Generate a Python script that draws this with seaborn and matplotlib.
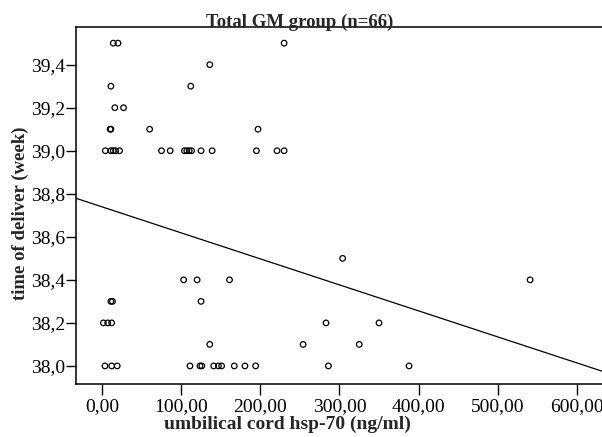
import numpy as np
import pandas as pd
import matplotlib
matplotlib.use('Agg')
import matplotlib.pyplot as plt
from matplotlib.ticker import FuncFormatter
import seaborn as sns

#Values
hsp70 = [14, 20, 230,
         136,
         11, 112,
         16, 27,
         10, 11, 60, 197,
         4, 11, 14, 17, 22, 75, 86, 104, 107, 110, 113, 125, 139, 195, 221, 230,
         304,
         103, 120, 161, 541,
         11, 13, 125,
         1.5, 7, 12, 283, 350,
         136, 254, 325,
         3.5, 12, 19, 111, 123.6, 126, 141, 147, 151, 167, 180.5, 194, 286, 388]
delivery_week = [39.5] * 3 + [39.4] * 1 + [39.3] * 2 + [39.2] * 2 + [39.1] * 4 \
    + [39.0] * 16 + [38.5] * 1 + [38.4] * 4 + [38.3] * 3 + [38.2] * 5 \
    + [38.1] * 3 + [38.0] * 14

#Fit line as drawn in the reference
fit_intercept = 38.739
fit_slope = -0.001208

x_ticks = [0, 100, 200, 300, 400, 500, 600]
y_ticks = [38.0, 38.2, 38.4, 38.6, 38.8, 39.0, 39.2, 39.4]

df = pd.DataFrame({'hsp70': hsp70, 'week': delivery_week})

sns.set_style('ticks')
plt.rcParams['font.family'] = ['Liberation Serif', 'DejaVu Serif']

fig = plt.figure(figsize=(6.02, 4.37), dpi=100)
W, H = 602, 437
ax = fig.add_axes([76 / W, (H - 384) / H, (W - 76) / W, (384 - 27) / H])

sns.scatterplot(data=df, x='hsp70', y='week', ax=ax,
                marker='o', s=16, facecolor='none', edgecolor='black',
                linewidth=0.9, zorder=3)

ax.axline((0, fit_intercept), slope=fit_slope, color='black', lw=0.9, zorder=2)

ax.set_xlim(-33.1, 631.9)
ax.set_ylim(37.916, 39.575)
ax.set_xticks(x_ticks)
ax.set_yticks(y_ticks)
ax.xaxis.set_major_formatter(FuncFormatter(lambda v, p: f'{v:.2f}'.replace('.', ',')))
ax.yaxis.set_major_formatter(FuncFormatter(lambda v, p: f'{v:.1f}'.replace('.', ',')))
ax.tick_params(axis='x', direction='out', length=8, width=1, pad=2,
               labelsize=14, colors='black')
ax.tick_params(axis='y', direction='out', length=7.4, width=1, pad=0.5,
               labelsize=14, colors='black')

for side in ['left', 'bottom', 'top']:
    ax.spines[side].set_visible(True)
    ax.spines[side].set_color('black')
    ax.spines[side].set_linewidth(1.1)
ax.spines['right'].set_visible(False)

ax.set_xlabel('umbilical cord hsp-70 (ng/ml)', fontsize=14, fontweight='bold')
ax.set_ylabel('time of deliver (week)', fontsize=13.5, fontweight='bold')
ax.xaxis.set_label_coords((287 - 76) / (W - 76), -(416 - 384) / (384 - 27))
ax.yaxis.set_label_coords(-(76 - 29) / (W - 76), (384 - 213) / (384 - 27))

fig.text(300 / W, 1 - 26.5 / H, 'Total GM group (n=66)', ha='center', va='baseline',
         fontsize=13.5, fontweight='bold')

fig.savefig('out.png', dpi=100)
